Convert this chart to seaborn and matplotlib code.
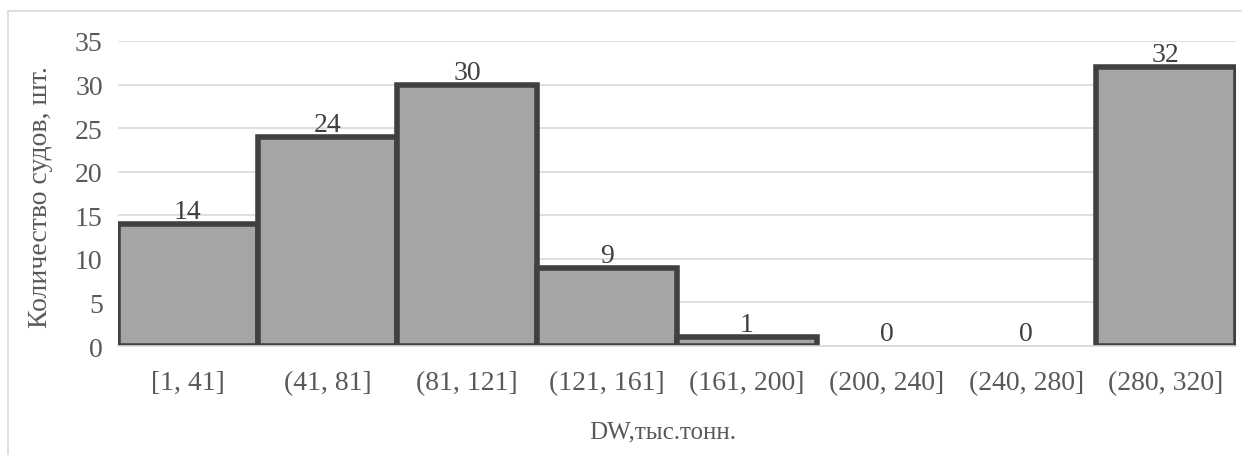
import matplotlib
matplotlib.use("Agg")
import matplotlib.pyplot as plt
import pandas as pd
import seaborn as sns
from matplotlib.patches import Rectangle

# Данные гистограммы
intervals = ["[1, 41]", "(41, 81]", "(81, 121]", "(121, 161]", "(161, 200]",
             "(200, 240]", "(240, 280]", "(280, 320]"]
counts = [14, 24, 30, 9, 1, 0, 0, 32]

df = pd.DataFrame({"DW": intervals, "Количество": counts})

sns.set_theme(style="white")
plt.rcParams["font.family"] = ["Liberation Serif", "DejaVu Serif"]

fig = plt.figure(figsize=(12.42, 4.56), dpi=100)
ax = fig.add_axes([0.095, 0.239, 0.9, 0.669])

sns.barplot(data=df, x="DW", y="Количество", color="#a5a5a5", saturation=1,
            width=1.0, edgecolor="#404040", linewidth=4, ax=ax)

# нулевые столбцы без контура
for p in ax.patches:
    if p.get_height() == 0:
        p.set_linewidth(0)

ax.bar_label(ax.containers[0], fontsize=20, color="#404040", padding=0)

ax.set_ylim(0, 35)
ax.set_yticks(range(0, 36, 5))
ax.yaxis.grid(True, color="#d9d9d9", linewidth=1.2)
ax.set_axisbelow(True)
for s in ["top", "right", "left"]:
    ax.spines[s].set_visible(False)
ax.spines["bottom"].set_color("#d9d9d9")
ax.spines["bottom"].set_linewidth(1.2)
ax.set_xlim(-0.5, len(intervals) - 0.5)

ax.tick_params(axis="both", labelsize=20, labelcolor="#595959", length=0)
ax.tick_params(axis="x", pad=17)
ax.tick_params(axis="y", pad=11)

ax.set_xlabel("DW,тыс.тонн.", fontsize=18, color="#595959", va="center")
ax.xaxis.set_label_coords(0.487, -0.279)
ax.set_ylabel("Количество судов, шт.", fontsize=20, color="#595959", va="center")
ax.yaxis.set_label_coords(-0.069, 0.49)

# рамка вокруг диаграммы
fig.patches.append(Rectangle((8 / 1242, -0.05), 1.1, 1 - 12 / 456 + 0.05,
                             transform=fig.transFigure, fill=False,
                             edgecolor="#d9d9d9", linewidth=1.2))

fig.savefig("out.png", dpi=100)
